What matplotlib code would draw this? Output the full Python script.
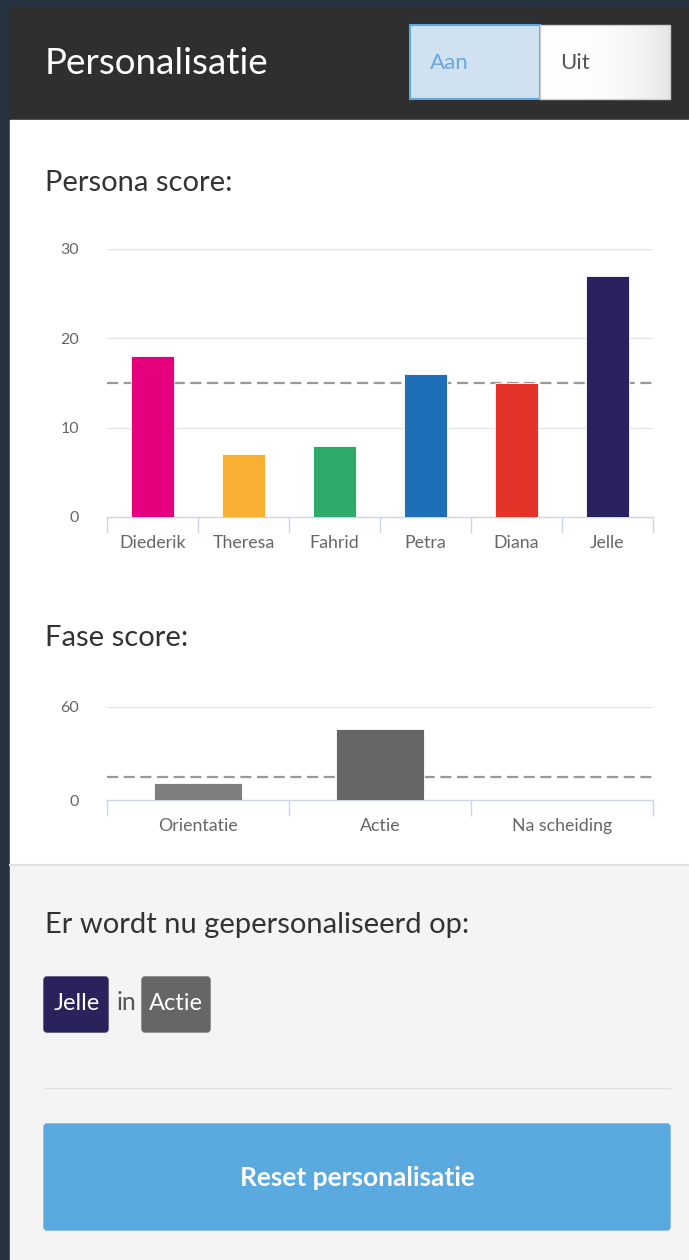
import numpy as np
import matplotlib.pyplot as plt
from matplotlib.patches import Rectangle, FancyBboxPatch

plt.rcParams['font.family'] = ['Lato', 'DejaVu Sans']

# data
personas = ['Diederik', 'Theresa', 'Fahrid', 'Petra', 'Diana', 'Jelle']
persona_scores = [18, 7, 8, 16, 15, 27]
persona_colors = ['#e6007e', '#f7b032', '#2eaa6a', '#1f6fb8', '#e5332a', '#2a2260']
persona_ticks = [0, 10, 20, 30]
persona_threshold = 15

fases = ['Orientatie', 'Actie', 'Na scheiding']
fase_scores = [11, 46, 0]
fase_colors = ['#7f7f7f', '#666666', '#666666']
fase_ticks = [0, 60]
fase_threshold = 15

W, H = 689, 1260
fig = plt.figure(figsize=(W / 100, H / 100), dpi=100, facecolor='#27323f')

# page background drawn in pixel coordinates
bg = fig.add_axes([0, 0, 1, 1])
bg.set_xlim(0, W)
bg.set_ylim(H, 0)
bg.axis('off')
bg.add_patch(Rectangle((10, 8), W - 10, 112, color='#2f2f2f'))
bg.add_patch(Rectangle((10, 120), W - 10, 744, color='white'))
bg.add_patch(Rectangle((10, 864), W - 10, H - 864, color='#f4f4f4'))
bg.plot([10, W], [864.5, 864.5], color='#e2e2e2', lw=1.5)

# header
bg.text(45, 63, 'Personalisatie', color='white', fontsize=26.5, va='center', ha='left')
bg.add_patch(Rectangle((410, 25), 130, 74, facecolor='#d0e2f1', edgecolor='#5aa8de', lw=1.5))
grad = np.linspace(0, 1, 100) ** 3
grad_img = np.ones((2, 100, 3))
grad_img[:, :, :] = (1 - 0.1 * grad)[None, :, None]
bg.imshow(grad_img, extent=(540, 670, 99, 25), aspect='auto', zorder=1)
bg.add_patch(Rectangle((540, 25), 130, 74, facecolor='none', edgecolor='#cfcfcf', lw=1, zorder=2))
bg.text(430, 63, 'Aan', color='#6aa6dc', fontsize=16, va='center', ha='left')
bg.text(560, 63, 'Uit', color='#555555', fontsize=16, va='center', ha='left')

# section titles
bg.text(45, 183, 'Persona score:', color='#333333', fontsize=21, va='center', ha='left')
bg.text(45, 638, 'Fase score:', color='#333333', fontsize=21, va='center', ha='left')


def bar_chart(rect, labels, values, colors, ticks, threshold):
    x0, y_top, x1, y_bot = rect
    ax = fig.add_axes([x0 / W, 1 - y_bot / H, (x1 - x0) / W, (y_bot - y_top) / H])
    ax.patch.set_alpha(0)
    pos = np.arange(len(labels))
    ax.bar(pos, values, width=0.48, color=colors, edgecolor='white', lw=0.6, zorder=3)
    ax.axhline(threshold, color='#999999', lw=1.6, dashes=(5, 2.5), zorder=2)
    for t in ticks[1:]:
        ax.axhline(t, color='#e6e6e6', lw=1, zorder=1)
    ax.set_xlim(-0.5, len(labels) - 0.5)
    ax.set_ylim(ticks[0], ticks[-1])
    for s in ['top', 'right', 'left']:
        ax.spines[s].set_visible(False)
    ax.spines['bottom'].set_color('#ccd6eb')
    ax.spines['bottom'].set_linewidth(1)
    ax.set_xticks(pos)
    ax.set_xticklabels(labels)
    ax.set_xticks(np.arange(len(labels) + 1) - 0.5, minor=True)
    ax.tick_params(axis='x', which='major', length=0, pad=13, labelsize=12.8, labelcolor='#666666')
    ax.tick_params(axis='x', which='minor', length=11.5, width=1, color='#ccd6eb')
    ax.set_yticks(ticks)
    ax.tick_params(axis='y', length=0, pad=20, labelsize=11.5, labelcolor='#666666')
    return ax


bar_chart((107, 249, 653, 517), personas, persona_scores, persona_colors,
          persona_ticks, persona_threshold)
bar_chart((107, 707, 653, 800), fases, fase_scores, fase_colors,
          fase_ticks, fase_threshold)

# current personalisation
bg.text(45, 925, 'Er wordt nu gepersonaliseerd op:', color='#333333', fontsize=21,
        va='center', ha='left')
bg.add_patch(FancyBboxPatch((44, 977), 64, 55, boxstyle='round,pad=0,rounding_size=3',
                            color='#2a225a'))
bg.text(77, 1004, 'Jelle', color='white', fontsize=17, va='center', ha='center')
bg.text(126, 1002, 'in', color='#555555', fontsize=18, va='center', ha='center')
bg.add_patch(FancyBboxPatch((142, 977), 68, 55, boxstyle='round,pad=0,rounding_size=3',
                            color='#666666'))
bg.text(176, 1004, 'Actie', color='white', fontsize=17, va='center', ha='center')
bg.plot([44, 670], [1088, 1088], color='#e0e0e0', lw=1)

# reset button
bg.add_patch(FancyBboxPatch((44, 1124), 626, 106, boxstyle='round,pad=0,rounding_size=3',
                            color='#5aaae0'))
bg.text(357, 1178, 'Reset personalisatie', color='white', fontsize=19, fontweight='bold',
        va='center', ha='center')

fig.savefig('out.png', dpi=100, facecolor=fig.get_facecolor())
